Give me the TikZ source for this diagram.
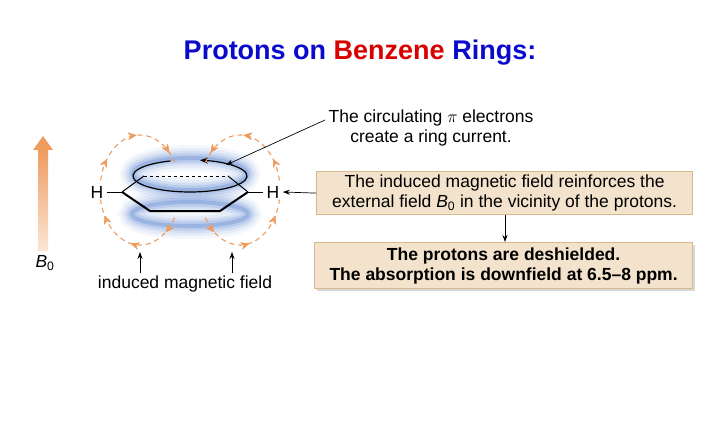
\documentclass[tikz,border=0pt]{standalone}
\usepackage{fontspec}
\setmainfont{Liberation Sans}
\usetikzlibrary{arrows.meta,decorations.markings,shadows}
\definecolor{boxfill}{HTML}{F3E3CC}
\definecolor{boxline}{HTML}{D8B88E}
\definecolor{fieldor}{HTML}{EE9B5E}
\definecolor{titleblue}{HTML}{0A0ACC}
\definecolor{halo}{HTML}{3F6FC8}
\newcommand{\bnull}{\textit{B}\textsubscript{0}}
\tikzset{
  infobox/.style={draw=boxline,line width=1.2pt,fill=boxfill,align=center,font=\fontsize{17.5}{20}\selectfont,inner sep=0pt},
  fieldline/.style={draw=fieldor,dash pattern=on 5pt off 4pt,line width=1.1pt},
  farrow/.style={postaction={decorate},decoration={markings,mark=at position #1 with {\arrow[fieldor]{Stealth[length=8pt,width=7pt]}}}},
  ptr/.style={-{Stealth[length=7pt,width=5pt]},line width=0.7pt},
  lbl/.style={font=\fontsize{17.5}{20}\selectfont,align=center}
}
\begin{document}
\begin{tikzpicture}[x=1pt,y=-1pt]
\useasboundingbox (0,0) rectangle (720,425);
\node (title) at (360,53) {\fontsize{27}{32}\selectfont\bfseries\textcolor{titleblue}{Protons on} \textcolor{red!85!black}{Benzene} \textcolor{titleblue}{Rings:}};
% B0 arrow
\shade[bottom color=fieldor!25,top color=fieldor] (38,250) rectangle (48,150);
\fill[fieldor] (33,150) -- (43,136) -- (53,150) -- cycle;
\node[lbl] (b0) at (45,263) {\bnull};
% halos
\foreach \w/\o in {26/0.06,20/0.08,14/0.12,9/0.16,4/0.25}{
  \draw[halo,opacity=\o,line width=\w pt] (190,174) ellipse (57 and 16);
  \draw[halo,opacity=\o,line width=\w pt] (190,214) ellipse (58 and 12);
}
% hexagon
\coordinate (v1) at (122,192);
\coordinate (v2) at (150,211);
\coordinate (v3) at (220,211);
\coordinate (v4) at (248,192);
\coordinate (v5) at (228,176);
\coordinate (v6) at (144,176);
\draw[line width=2pt,line join=round] (v1) -- (v2) -- (v3) -- (v4);
\draw[line width=1pt] (v4) -- (v5);
\draw[line width=1pt] (v6) -- (v1);
\draw[dashed,line width=0.8pt] (v6) -- (v5);
\node[lbl] (hl) at (97,192) {H};
\node[lbl] (hr) at (273,192) {H};
\draw[line width=0.8pt] (hl.east) -- (v1);
\draw[line width=0.8pt] (v4) -- (hr.west);
% ring current (y axis points down)
\draw[line width=1.2pt,-{Stealth[length=8pt,width=6pt]}] (190,176) ++(-110:57 and 16) arc[start angle=-110,end angle=-440,x radius=57,y radius=16];
% field loops
\draw[fieldline,farrow=0.2,farrow=0.55,farrow=0.9] (140,190) ++(190:40 and 55) arc[start angle=190,end angle=330,x radius=40,y radius=55];
\draw[fieldline,farrow=0.15,farrow=0.5,farrow=0.85] (140,190) ++(30:40 and 55) arc[start angle=30,end angle=170,x radius=40,y radius=55];
\draw[fieldline,farrow=0.2,farrow=0.55,farrow=0.9] (240,190) ++(350:40 and 55) arc[start angle=350,end angle=210,x radius=40,y radius=55];
\draw[fieldline,farrow=0.15,farrow=0.5,farrow=0.85] (240,190) ++(150:40 and 55) arc[start angle=150,end angle=10,x radius=40,y radius=55];
% labels
\node[lbl] (ind) at (185,284) {induced magnetic field};
\coordinate (t1) at (140,252);
\coordinate (t2) at (232,252);
\draw[ptr] (140,273) -- (t1);
\draw[ptr] (232,273) -- (t2);
\node[lbl] (ring) at (431,128) {The circulating $\pi$ electrons\\create a ring current.};
\coordinate (ringpt) at (226,165);
\coordinate (ringsrc) at (325,120);
\draw[ptr] (ringsrc) -- (ringpt);
\node[infobox,minimum width=376pt,minimum height=43pt,anchor=north west] (box1) at (316,171) {The induced magnetic field reinforces the\\external field \bnull\ in the vicinity of the protons.};
\node[infobox,minimum width=378pt,minimum height=46pt,anchor=north west,drop shadow={shadow xshift=2pt,shadow yshift=-2pt,opacity=0.3},font=\fontsize{17.5}{20}\selectfont\bfseries] (box2) at (314,242) {The protons are deshielded.\\The absorption is downfield at 6.5--8 ppm.};
\draw[ptr] (box1.west) -- (hr.east);
\draw[ptr] (box1.south -| 505,0) -- (box2.north -| 505,0);
\end{tikzpicture}
\end{document}
